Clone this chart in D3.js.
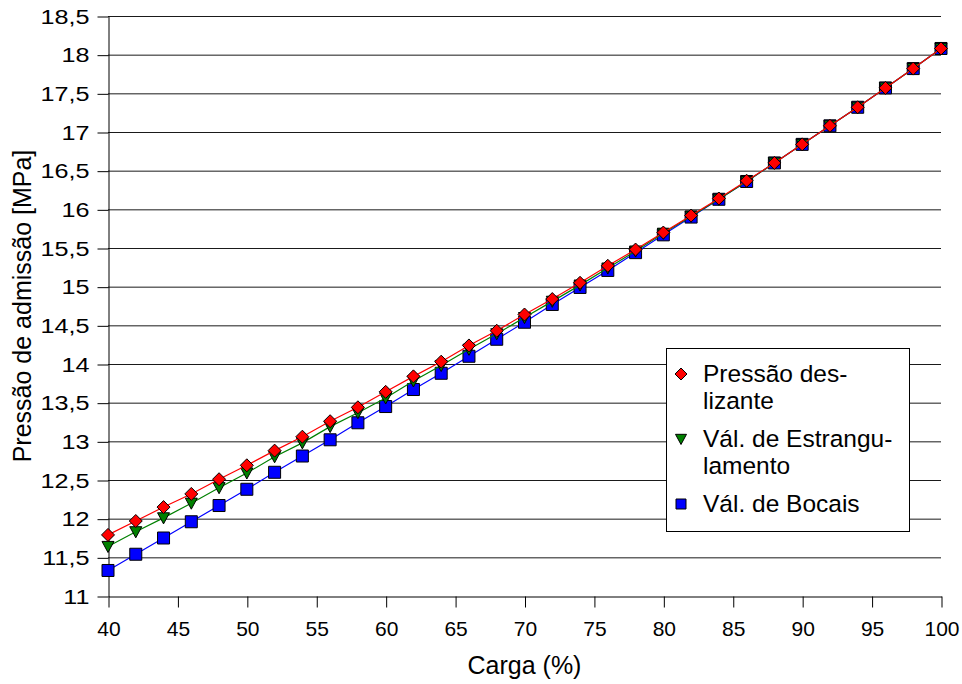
<!DOCTYPE html>
<html>
<head>
<meta charset="utf-8">
<script src="https://cdn.jsdelivr.net/npm/d3@7"></script>
<style>
  html, body { margin: 0; padding: 0; background: #fff; }
  svg { display: block; font-family: "Liberation Sans", Arial, sans-serif; }
</style>
</head>
<body>
<svg id="chart" width="962" height="684"></svg>
<script>
// Load (%) on the x axis
const carga = [40, 42, 44, 46, 48, 50, 52, 54, 56, 58, 60, 62, 64, 66, 68, 70,
               72, 74, 76, 78, 80, 82, 84, 86, 88, 90, 92, 94, 96, 98, 100];

// Admission pressure [MPa] for each control mode
const pressaoDeslizante = [11.79, 11.97, 12.15, 12.32, 12.51, 12.69, 12.88, 13.06, 13.26, 13.44,
                           13.64, 13.84, 14.03, 14.24, 14.43, 14.64, 14.84, 15.05, 15.27, 15.48,
                           15.70, 15.92, 16.14, 16.37, 16.60, 16.84, 17.08, 17.32, 17.57, 17.82, 18.08];
const valEstrangulamento = [11.64, 11.83, 12.01, 12.20, 12.40, 12.59, 12.80, 12.98, 13.19, 13.37,
                            13.56, 13.78, 13.98, 14.19, 14.39, 14.60, 14.81, 15.02, 15.24, 15.46,
                            15.69, 15.91, 16.13, 16.36, 16.60, 16.84, 17.08, 17.32, 17.57, 17.82, 18.08];
const valBocais = [11.33, 11.54, 11.75, 11.96, 12.17, 12.38, 12.60, 12.81, 13.02, 13.24,
                   13.45, 13.67, 13.88, 14.10, 14.32, 14.54, 14.77, 14.99, 15.21, 15.44,
                   15.67, 15.90, 16.13, 16.36, 16.60, 16.84, 17.08, 17.32, 17.57, 17.82, 18.08];

const xTicks = [40, 45, 50, 55, 60, 65, 70, 75, 80, 85, 90, 95, 100];
const yTicks = [11, 11.5, 12, 12.5, 13, 13.5, 14, 14.5, 15, 15.5, 16, 16.5, 17, 17.5, 18, 18.5];

const seriesNames = ["Pressão deslizante", "Vál. de Estrangulamento", "Vál. de Bocais"];
const legendLines = [["Pressão des-", "lizante"], ["Vál. de Estrangu-", "lamento"], ["Vál. de Bocais"]];

const svg = d3.select("#chart");
const plot = { left: 108, right: 941, top: 16, bottom: 596 };

const x = d3.scaleLinear().domain([40, 100]).range([plot.left, plot.right]);
const y = d3.scaleLinear().domain([11, 18.5]).range([plot.bottom, plot.top]);
const fmt = v => String(v).replace(".", ",");

// horizontal gridlines
svg.append("g")
  .selectAll("line")
  .data(yTicks.filter(v => v > 11))
  .join("line")
  .attr("x1", plot.left).attr("x2", plot.right)
  .attr("y1", d => y(d) + 0.5).attr("y2", d => y(d) + 0.5)
  .attr("stroke", "#1a1a1a").attr("stroke-width", 1);

// y axis (labels drawn a little wide)
const yAxis = svg.append("g")
  .attr("transform", `translate(${plot.left + 0.5},0.5)`)
  .call(d3.axisLeft(y).tickValues(yTicks).tickFormat(fmt).tickSize(11).tickPadding(8).tickSizeOuter(0));
yAxis.select(".domain").attr("stroke", "#000");
yAxis.selectAll(".tick line").attr("stroke", "#000");
yAxis.selectAll(".tick text")
  .attr("x", 0)
  .attr("transform", "translate(-19,0) scale(1.2,1)")
  .attr("font-size", 21).attr("fill", "#000")
  .attr("font-family", "Liberation Sans, Arial, sans-serif");

// x axis
const xAxis = svg.append("g")
  .attr("transform", `translate(0.5,${plot.bottom + 0.5})`)
  .call(d3.axisBottom(x).tickValues(xTicks).tickFormat(d3.format("d")).tickSize(11).tickPadding(14).tickSizeOuter(0));
xAxis.select(".domain").attr("stroke", "#000");
xAxis.selectAll(".tick line").attr("stroke", "#000");
xAxis.selectAll(".tick text").attr("font-size", 21).attr("fill", "#000")
  .attr("font-family", "Liberation Sans, Arial, sans-serif");

// axis titles
svg.append("text")
  .attr("x", (plot.left + plot.right) / 2).attr("y", 674)
  .attr("text-anchor", "middle").attr("font-size", 25)
  .text("Carga (%)");
svg.append("text")
  .attr("transform", `translate(31,${(plot.top + plot.bottom) / 2}) rotate(-90)`)
  .attr("text-anchor", "middle").attr("font-size", 25)
  .text("Pressão de admissão [MPa]");

// marker shapes
const diamondPath = s => { const h = s / 2; return `M0,${-h}L${h},0L0,${h}L${-h},0Z`; };
const trianglePath = s => { const h = s / 2; return `M${-h},${-h * 0.85}L${h},${-h * 0.85}L0,${h}Z`; };
const squarePath = s => { const h = s / 2; return `M${-h},${-h}H${h}V${h}H${-h}Z`; };

const series = [
  { name: seriesNames[2], values: valBocais, color: "#0000ff", shape: squarePath, size: 12, lsize: 10 },
  { name: seriesNames[1], values: valEstrangulamento, color: "#008000", shape: trianglePath, size: 12, lsize: 11 },
  { name: seriesNames[0], values: pressaoDeslizante, color: "#ff0000", shape: diamondPath, size: 13, lsize: 12 }
];

const line = d3.line().x(d => x(d[0])).y(d => y(d[1]));

series.forEach(s => {
  const pts = carga.map((c, i) => [c, s.values[i]]);
  const g = svg.append("g");
  g.append("path")
    .attr("d", line(pts))
    .attr("fill", "none").attr("stroke", s.color).attr("stroke-width", 1.2);
  g.selectAll("path.m")
    .data(pts)
    .join("path")
    .attr("class", "m")
    .attr("transform", d => `translate(${x(d[0])},${y(d[1])})`)
    .attr("d", s.shape(s.size))
    .attr("fill", s.color).attr("stroke", "#000").attr("stroke-width", 1);
});

// legend
const lg = svg.append("g");
lg.append("rect")
  .attr("x", 666.5).attr("y", 348.5).attr("width", 243).attr("height", 183)
  .attr("fill", "#fff").attr("stroke", "#000").attr("stroke-width", 1);

const legendOrder = [series[2], series[1], series[0]];
legendOrder.forEach((s, i) => {
  const base = 382 + i * 65;
  lg.append("path")
    .attr("transform", `translate(681,${base - 8})`)
    .attr("d", s.shape(s.lsize))
    .attr("fill", s.color).attr("stroke", "#000").attr("stroke-width", 1);
  const t = lg.append("text").attr("x", 703).attr("y", base).attr("font-size", 24.5);
  legendLines[i].forEach((ln, j) => {
    t.append("tspan").attr("x", 703).attr("y", base + j * 27).text(ln);
  });
});
</script>
</body>
</html>
